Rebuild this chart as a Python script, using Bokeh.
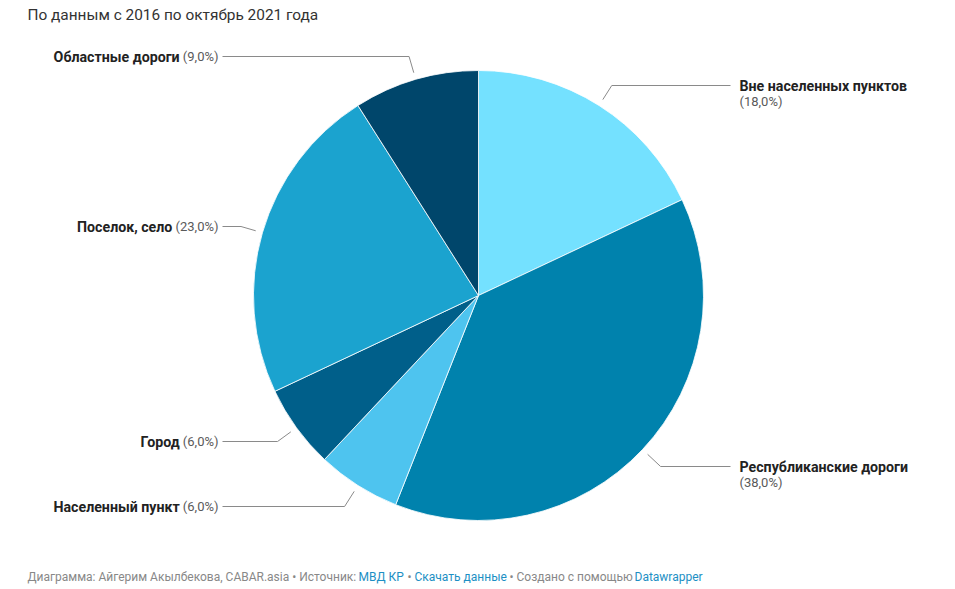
import math
from bokeh.plotting import figure
from bokeh.models import Range1d, ColumnDataSource
from bokeh.core.properties import value
from bokeh.embed import file_html
from bokeh.resources import INLINE

# ---------------- data ----------------
categories = ["Вне населенных пунктов", "Республиканские дороги", "Населенный пункт",
              "Город", "Поселок, село", "Областные дороги"]
shares = [18.0, 38.0, 6.0, 6.0, 23.0, 9.0]
colors = ["#74E1FF", "#0082AD", "#4EC4EF", "#005F8A", "#1BA3CF", "#00466B"]
title_text = "По данным с 2016 по октябрь 2021 года"

# ---------------- layout ----------------
W, H = 950, 589
FONT = "Roboto"
label_side = ["right", "right", "left", "left", "left", "left"]
label_y_page = [85, 466, 506, 441, 226, 56]


def X(px):
    return px


def Y(py):
    return H - py


CX, CY, R = X(478), Y(295), 225

p = figure(width=W, height=H, output_backend="svg", toolbar_location=None,
           x_range=Range1d(0, W), y_range=Range1d(0, H),
           x_axis_location=None, y_axis_location=None, min_border=0)
p.outline_line_color = None
p.grid.visible = False
p.background_fill_color = "white"

total = sum(shares)
starts, ends, mids = [], [], []
c = 0.0
for v in shares:
    c0 = c / total * 2 * math.pi
    c += v
    c1 = c / total * 2 * math.pi
    starts.append(math.pi / 2 - c1)
    ends.append(math.pi / 2 - c0)
    mids.append((c0 + c1) / 2)

src = ColumnDataSource(dict(x=[CX] * len(shares), y=[CY] * len(shares),
                            start=starts, end=ends, color=colors))
p.wedge(x="x", y="y", radius=R, start_angle="start", end_angle="end",
        fill_color="color", line_color="white", line_width=1, line_alpha=0.8, source=src)

# leader lines
lx, ly = [], []
for m, side, lyp in zip(mids, label_side, label_y_page):
    dx, dy = math.sin(m), math.cos(m)  # data coords (y up)
    r0 = R + 7
    sx, sy = CX + r0 * dx, CY + r0 * dy
    ty = Y(lyp)
    t = (ty - sy) / dy if abs(dy) > 1e-6 else 0
    ex, ey = sx + t * dx, ty
    hx = X(222) if side == "left" else X(730)
    lx.append([sx, ex, hx])
    ly.append([sy, ey, ty])
p.multi_line(xs=lx, ys=ly, line_color="#8a8a8a", line_width=1)


# char widths (Roboto, per 13px)
def pct_width(s, size=13):
    w = {"(": 700, ")": 712, ",": 393, "%": 1465, " ": 507}
    return sum(w.get(ch, 1150) for ch in s) / 2048 * size


pct_txt = [("(%.1f%%)" % v).replace(".", ",") for v in shares]
BOLD_SIZE = "14.2px"
PCT_COLOR = "#5a5a5a"

for name, pt, side, lyp in zip(categories, pct_txt, label_side, label_y_page):
    if side == "left":
        xr = X(218)
        pw = pct_width(pt)
        p.text(x=[xr], y=[Y(lyp)], text=[pt], text_font=value(FONT), text_font_size="13px",
               text_color=PCT_COLOR, text_align="right", text_baseline="middle")
        p.text(x=[xr - pw - 3.5], y=[Y(lyp)], text=[name], text_font=value(FONT),
               text_font_size=BOLD_SIZE, text_font_style="bold", text_color="#222222",
               text_align="right", text_baseline="middle")
    else:
        xl = X(739)
        p.text(x=[xl], y=[Y(lyp)], text=[name], text_font=value(FONT), text_font_size=BOLD_SIZE,
               text_font_style="bold", text_color="#222222", text_align="left",
               text_baseline="middle")
        p.text(x=[xl], y=[Y(lyp + 16)], text=[pt], text_font=value(FONT),
               text_font_size="13px", text_color=PCT_COLOR, text_align="left",
               text_baseline="middle")

# title
p.text(x=[X(27)], y=[Y(14)], text=[title_text], text_font=value(FONT), text_font_size="15.4px",
       text_color="#333333", text_align="left", text_baseline="middle")

# footer
foot = [
    (27, "Диаграмма: Айгерим Акылбекова, CABAR.asia • Источник:", "#888888"),
    (358, "МВД КР", "#1d8fc4"),
    (407, "•", "#888888"),
    (414, "Скачать данные", "#1d8fc4"),
    (509, "• Создано с помощью", "#888888"),
    (634, "Datawrapper", "#1d8fc4"),
]
for fx, ft, fc in foot:
    p.text(x=[X(fx)], y=[Y(576)], text=[ft], text_font=value(FONT), text_font_size="12px",
           text_color=fc, text_align="left", text_baseline="middle")

open("out.html", "w").write(file_html(p, INLINE))
